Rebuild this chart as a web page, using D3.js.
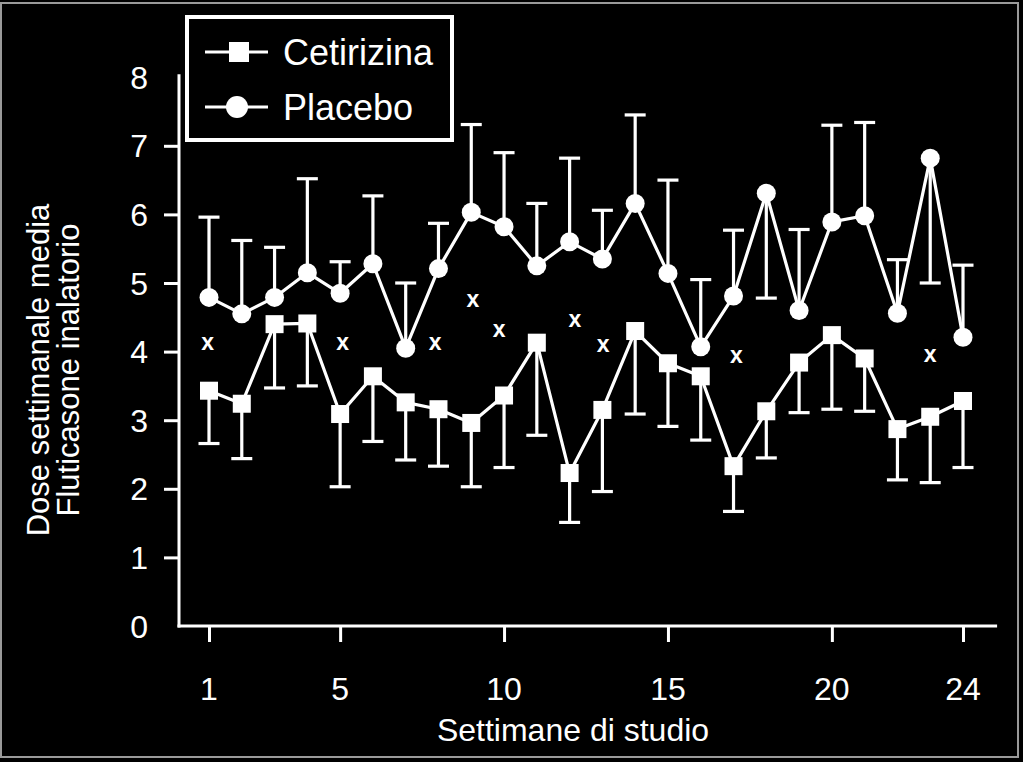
<!DOCTYPE html>
<html>
<head>
<meta charset="utf-8">
<script src="https://cdn.jsdelivr.net/npm/d3@7"></script>
<style>
  html, body { margin: 0; padding: 0; background: #000; }
  svg { display: block; }
  text { font-family: "Liberation Sans", Arial, sans-serif; fill: #fff; }
</style>
</head>
<body>
<svg id="chart" width="1023" height="762"></svg>
<script>
// ---- Data ----
const weeks = [1,2,3,4,5,6,7,8,9,10,11,12,13,14,15,16,17,18,19,20,21,22,23,24];
const cetirizina = [3.43,3.24,4.40,4.41,3.09,3.64,3.26,3.16,2.96,3.36,4.13,2.23,3.15,4.30,3.83,3.64,2.33,3.13,3.84,4.24,3.90,2.87,3.05,3.28];
const cetirizinaErrEnd = [2.66,2.44,3.47,3.50,2.03,2.69,2.42,2.33,2.03,2.31,2.78,1.51,1.96,3.09,2.91,2.71,1.67,2.45,3.11,3.16,3.13,2.13,2.09,2.31];
const placebo = [4.79,4.55,4.79,5.15,4.85,5.28,4.05,5.21,6.03,5.82,5.25,5.60,5.35,6.16,5.14,4.07,4.81,6.31,4.60,5.89,5.98,4.56,6.82,4.21];
const placeboErrEnd = [5.96,5.62,5.52,6.52,5.31,6.27,5.00,5.87,7.31,6.90,6.16,6.82,6.06,7.45,6.50,5.05,5.77,4.78,5.78,7.30,7.34,5.34,5.00,5.26];
const sigWeeks = [0.96,5.08,7.9,9.05,9.85,12.16,13.02,17.09,23.0];
const sigValues = [4.12,4.12,4.13,4.75,4.31,4.46,4.10,3.93,3.95];
const sigLabel = "x";
const yTicks = [0,1,2,3,4,5,6,7,8];
const xTicks = [1,5,10,15,20,24];
const seriesNames = ["Cetirizina", "Placebo"];
const yTitleLines = ["Dose settimanale media", "Fluticasone inalatorio"];
const xTitle = "Settimane di studio";

// ---- Layout ----
const svg = d3.select("#chart");
const x = d3.scaleLinear().domain([1, 24]).range([209, 963]);
const y = d3.scaleLinear().domain([0, 8]).range([626, 77.2]);
const xAxisEnd = x(25.04);
const white = "#fff";

// outer frame
svg.append("rect").attr("x", 1).attr("y", 3).attr("width", 1017).attr("height", 754)
  .attr("fill", "none").attr("stroke", "#9a9a9a").attr("stroke-width", 2);

// Y axis
const yAxisX = 179;
svg.append("line").attr("x1", yAxisX).attr("x2", yAxisX).attr("y1", y(8) - 3).attr("y2", y(0) + 1.5)
  .attr("stroke", white).attr("stroke-width", 3);
const yAxis = d3.axisLeft(y).tickValues(yTicks.filter(d => d !== 8 && d !== 0)).tickSize(15).tickFormat("");
const gy = svg.append("g").attr("transform", `translate(${yAxisX},0)`).call(yAxis);
gy.select(".domain").remove();
gy.selectAll(".tick line").attr("stroke", white).attr("stroke-width", 3);
svg.append("g").selectAll("text").data(yTicks).join("text")
  .attr("x", 148).attr("y", d => y(d)).attr("dy", "0.36em")
  .attr("text-anchor", "end").attr("font-size", 32).text(d => d);

// X axis
svg.append("line").attr("x1", yAxisX - 1.5).attr("x2", xAxisEnd).attr("y1", y(0)).attr("y2", y(0))
  .attr("stroke", white).attr("stroke-width", 3);
const xAxis = d3.axisBottom(x).tickValues(xTicks).tickSize(16).tickFormat("");
const gx = svg.append("g").attr("transform", `translate(0,${y(0)})`).call(xAxis);
gx.select(".domain").remove();
gx.selectAll(".tick line").attr("stroke", white).attr("stroke-width", 3);
svg.append("g").selectAll("text").data(xTicks).join("text")
  .attr("x", d => x(d)).attr("y", 700)
  .attr("text-anchor", "middle").attr("font-size", 32).text(d => d);

// Axis titles
svg.append("text").attr("x", 573).attr("y", 741).attr("text-anchor", "middle")
  .attr("font-size", 32).text(xTitle);
const yt = svg.append("text").attr("transform", "translate(38,370) rotate(-90)")
  .attr("text-anchor", "middle").attr("font-size", 31);
yTitleLines.forEach((t, i) => {
  yt.append("tspan").attr("x", 0).attr("y", i * 30 + 11).text(t);
});

// ---- Series ----
const capW = 21;
function errorBars(vals, ends) {
  const g = svg.append("g");
  weeks.forEach((w, i) => {
    g.append("line").attr("x1", x(w)).attr("x2", x(w)).attr("y1", y(vals[i])).attr("y2", y(ends[i]))
      .attr("stroke", white).attr("stroke-width", 3.2);
    g.append("line").attr("x1", x(w) - capW / 2).attr("x2", x(w) + capW / 2)
      .attr("y1", y(ends[i])).attr("y2", y(ends[i]))
      .attr("stroke", white).attr("stroke-width", 3.2);
  });
}
const line = d3.line().x((d, i) => x(weeks[i])).y(d => y(d));

errorBars(placebo, placeboErrEnd);
errorBars(cetirizina, cetirizinaErrEnd);

svg.append("path").datum(placebo).attr("d", line).attr("fill", "none")
  .attr("stroke", white).attr("stroke-width", 3.2).attr("stroke-linejoin", "round");
svg.append("path").datum(cetirizina).attr("d", line).attr("fill", "none")
  .attr("stroke", white).attr("stroke-width", 3.2).attr("stroke-linejoin", "round");

svg.append("g").selectAll("circle").data(placebo).join("circle")
  .attr("cx", (d, i) => x(weeks[i])).attr("cy", d => y(d)).attr("r", 9.5).attr("fill", white);
const sq = 18;
svg.append("g").selectAll("rect").data(cetirizina).join("rect")
  .attr("x", (d, i) => x(weeks[i]) - sq / 2).attr("y", d => y(d) - sq / 2)
  .attr("width", sq).attr("height", sq).attr("fill", white);

// significance marks
svg.append("g").selectAll("text").data(sigWeeks).join("text")
  .attr("x", d => x(d)).attr("y", (d, i) => y(sigValues[i])).attr("dy", "0.3em")
  .attr("text-anchor", "middle").attr("font-size", 23).attr("font-weight", "bold").text(sigLabel);

// ---- Legend ----
const lg = svg.append("g");
lg.append("rect").attr("x", 187).attr("y", 17).attr("width", 265).attr("height", 123)
  .attr("fill", "#000").attr("stroke", white).attr("stroke-width", 4);
const legY = [52, 107];
legY.forEach((ly, i) => {
  lg.append("line").attr("x1", 205).attr("x2", 268).attr("y1", ly).attr("y2", ly)
    .attr("stroke", white).attr("stroke-width", 3.2);
  if (i === 0) {
    lg.append("rect").attr("x", 239 - 10).attr("y", ly - 10).attr("width", 20).attr("height", 20).attr("fill", white);
  } else {
    lg.append("circle").attr("cx", 237).attr("cy", ly).attr("r", 11).attr("fill", white);
  }
  lg.append("text").attr("x", 283).attr("y", ly + 13).attr("font-size", 36).text(seriesNames[i]);
});
</script>
</body>
</html>
